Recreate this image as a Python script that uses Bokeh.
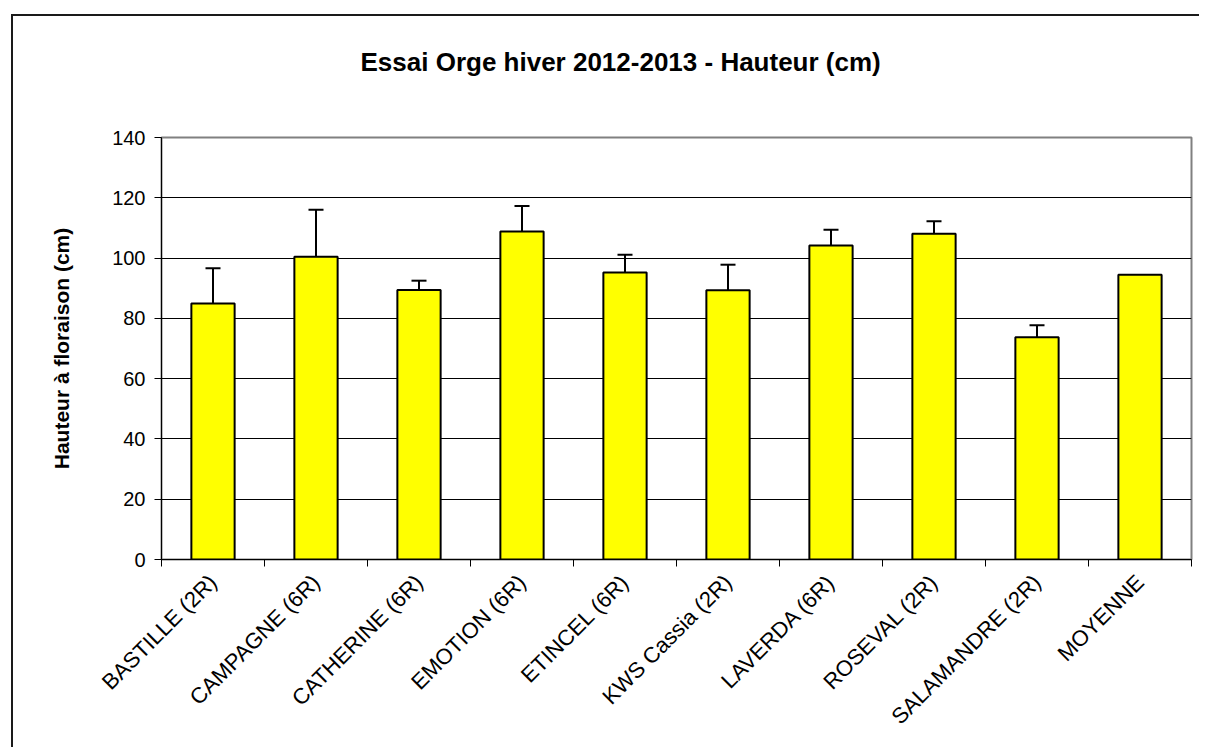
import math
from bokeh.plotting import figure
from bokeh.models import ColumnDataSource, FixedTicker, Whisker, TeeHead, Range1d, Title
from bokeh.embed import file_html
from bokeh.resources import INLINE

categories = ["BASTILLE (2R)", "CAMPAGNE (6R)", "CATHERINE (6R)", "EMOTION (6R)",
              "ETINCEL (6R)", "KWS Cassia (2R)", "LAVERDA (6R)", "ROSEVAL (2R)",
              "SALAMANDRE (2R)", "MOYENNE"]
hauteur = [84.9, 100.4, 89.4, 108.8, 95.2, 89.3, 104.2, 108.1, 73.7, 94.5]
err_top = [96.6, 116.0, 92.5, 117.3, 101.1, 97.8, 109.4, 112.2, 77.7, None]
y_ticks = [0, 20, 40, 60, 80, 100, 120, 140]
title_text = "Essai Orge hiver 2012-2013 - Hauteur (cm)"
y_label = "Hauteur à floraison (cm)"

FONT = "Liberation Sans"

xs = [i + 0.5 for i in range(len(categories))]
src = ColumnDataSource(dict(x=xs, top=hauteur, label=categories))
ex = [x for x, e in zip(xs, err_top) if e is not None]
ev = [v for v, e in zip(hauteur, err_top) if e is not None]
eu = [e for e in err_top if e is not None]
esrc = ColumnDataSource(dict(x=ex, lower=ev, upper=eu))

p = figure(width=1188, height=733, output_backend="svg", toolbar_location=None, title=None,
           x_range=Range1d(0, len(categories)), y_range=Range1d(0, 140),
           min_border_left=148, min_border_right=10, min_border_top=121, min_border_bottom=190)
p.styles = {"margin-left": "11px", "margin-top": "14px",
            "border-left": "2px solid #1a1a1a", "border-top": "2px solid #1a1a1a"}

# spacer between plot frame and title
p.add_layout(Title(text=" ", text_font_size="1px", standoff=58), "above")
p.add_layout(Title(text=title_text, align="left", offset=199, standoff=0,
                   text_font=FONT, text_font_size="26px", text_font_style="bold",
                   text_color="black"), "above")

p.vbar(x="x", top="top", width=0.42, source=src, fill_color="#FFFF00",
       line_color="black", line_width=2)

w = Whisker(base="x", upper="upper", lower="lower", source=esrc,
            upper_head=TeeHead(size=15, line_color="black", line_width=2),
            lower_head=None, line_color="black", line_width=2)
p.add_layout(w)

p.outline_line_color = "#808080"
p.outline_line_width = 2
p.xgrid.visible = False
p.ygrid.grid_line_color = "black"
p.ygrid.grid_line_width = 1
p.ygrid.ticker = FixedTicker(ticks=y_ticks)

ya = p.yaxis[0]
ya.ticker = FixedTicker(ticks=y_ticks)
ya.axis_label = y_label
ya.axis_label_text_font = FONT
ya.axis_label_text_font_style = "bold"
ya.axis_label_text_font_size = "21px"
ya.axis_label_text_color = "black"
ya.axis_label_standoff = 36
ya.major_label_text_font = FONT
ya.major_label_text_font_size = "20px"
ya.major_label_text_color = "black"
ya.axis_line_color = "black"
ya.axis_line_width = 1
ya.major_tick_line_color = "black"
ya.major_tick_out = 7
ya.major_tick_in = 0
ya.minor_tick_line_color = None
ya.major_label_standoff = 9

xa = p.xaxis[0]
xa.ticker = FixedTicker(ticks=xs, minor_ticks=list(range(len(categories) + 1)))
xa.major_label_overrides = {x: c for x, c in zip(xs, categories)}
xa.major_label_orientation = math.pi / 4
xa.major_label_text_font = FONT
xa.major_label_text_font_size = "22px"
xa.major_label_text_color = "black"
xa.major_tick_line_color = None
xa.minor_tick_line_color = "black"
xa.minor_tick_out = 7
xa.minor_tick_in = 0
xa.axis_line_color = "black"
xa.major_label_standoff = 12

p.background_fill_color = "white"
p.border_fill_color = "white"

open("out.html", "w").write(file_html(p, INLINE))
